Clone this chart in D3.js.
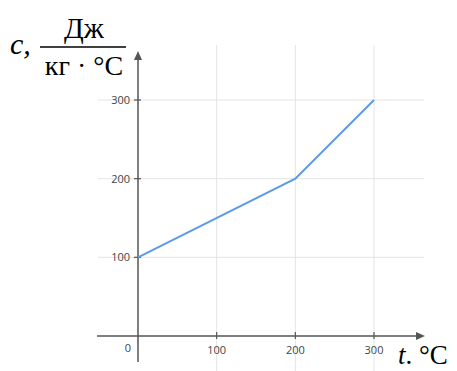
<!DOCTYPE html>
<html><head><meta charset="utf-8">
<script src="https://cdn.jsdelivr.net/npm/d3@7"></script>
<style>body{margin:0;background:#fff}svg{display:block}</style>
</head><body>
<script>
const temps = [0, 200, 300];
const heat = [100, 200, 300];
const xTicks = [100, 200, 300];
const yTicks = [100, 200, 300];

const W = 457, H = 371;
const svg = d3.select("body").append("svg").attr("width", W).attr("height", H);
const x = d3.scaleLinear().domain([0, 300]).range([138, 374]);
const y = d3.scaleLinear().domain([0, 300]).range([336, 100]);

const gridC = "#e4e4e4", axC = "#555", txtC = "#444";
// grid
svg.append("g").selectAll("line").data(yTicks).join("line")
  .attr("x1", 98).attr("x2", 424).attr("y1", d => y(d)).attr("y2", d => y(d))
  .attr("stroke", gridC).attr("stroke-width", 1);
svg.append("g").selectAll("line").data(xTicks).join("line")
  .attr("y1", 45).attr("y2", 371).attr("x1", d => x(d)).attr("x2", d => x(d))
  .attr("stroke", gridC).attr("stroke-width", 1);

// axes
svg.append("line").attr("x1", 97).attr("x2", 418).attr("y1", y(0)).attr("y2", y(0))
  .attr("stroke", axC).attr("stroke-width", 1.5);
svg.append("path").attr("d", `M425,${y(0)} L416,${y(0)-4} L416,${y(0)+4} Z`).attr("fill", axC);
svg.append("line").attr("x1", x(0)).attr("x2", x(0)).attr("y1", 362).attr("y2", 58)
  .attr("stroke", axC).attr("stroke-width", 1.5);
svg.append("path").attr("d", `M${x(0)},51 L${x(0)-4},60 L${x(0)+4},60 Z`).attr("fill", axC);

// ticks
svg.append("g").selectAll("line").data(xTicks).join("line")
  .attr("x1", d => x(d)).attr("x2", d => x(d)).attr("y1", y(0) - 4).attr("y2", y(0) + 3)
  .attr("stroke", axC).attr("stroke-width", 1.2);
svg.append("g").selectAll("line").data(yTicks).join("line")
  .attr("y1", d => y(d)).attr("y2", d => y(d)).attr("x1", x(0) - 4).attr("x2", x(0) + 3)
  .attr("stroke", axC).attr("stroke-width", 1.2);

const lab = "'Open Sans', 'Noto Sans', sans-serif";
svg.append("g").selectAll("text").data(xTicks).join("text")
  .attr("x", d => x(d)).attr("y", 354).attr("text-anchor", "middle")
  .attr("font-family", lab).attr("font-size", 11).attr("fill", txtC).text(d => d);
svg.append("g").selectAll("text").data(yTicks).join("text")
  .attr("x", 130).attr("y", d => y(d) + 4).attr("text-anchor", "end")
  .attr("font-family", lab).attr("font-size", 11).attr("fill", txtC).text(d => d);
svg.append("text").attr("x", 131).attr("y", 352).attr("text-anchor", "end")
  .attr("font-family", lab).attr("font-size", 11).attr("fill", txtC).text("0");

// data line
svg.append("path").datum(temps.map((t, i) => [t, heat[i]]))
  .attr("d", d3.line().x(d => x(d[0])).y(d => y(d[1])))
  .attr("fill", "none").attr("stroke", "#5b9be8").attr("stroke-width", 2);

// axis titles
const serif = "'Liberation Serif', 'DejaVu Serif', serif";
svg.append("text").attr("x", 10).attr("y", 54).attr("font-family", serif).attr("font-style", "italic")
  .attr("font-size", 30).attr("fill", "#000").text("c,");
svg.append("text").attr("x", 84).attr("y", 38).attr("text-anchor", "middle").attr("font-family", serif)
  .attr("font-size", 29).attr("fill", "#000").text("Дж");
svg.append("line").attr("x1", 40).attr("x2", 126).attr("y1", 47).attr("y2", 47)
  .attr("stroke", "#000").attr("stroke-width", 1.6);
svg.append("text").attr("x", 84).attr("y", 75).attr("text-anchor", "middle").attr("font-family", serif)
  .attr("font-size", 28).attr("fill", "#000").text("кг · °C");
const tl = svg.append("text").attr("x", 398).attr("y", 364).attr("font-family", serif)
  .attr("font-size", 27).attr("fill", "#000");
tl.append("tspan").attr("font-style", "italic").text("t");
tl.append("tspan").text(". °C");
</script>
</body></html>
